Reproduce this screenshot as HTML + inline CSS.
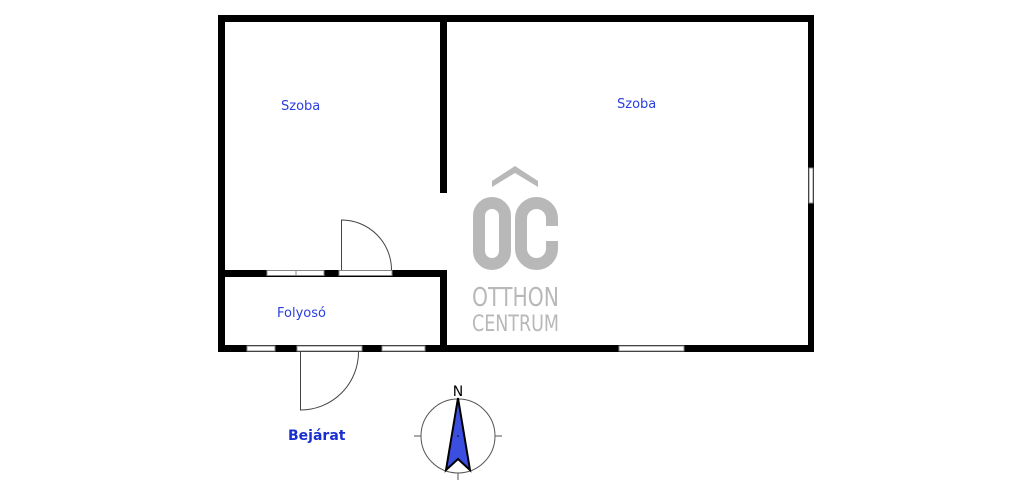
<!DOCTYPE html>
<html><head><meta charset="utf-8"><style>
html,body{margin:0;padding:0;background:#fff;}
svg{display:block;}
</style></head><body>
<svg width="1032" height="500" viewBox="0 0 1032 500" xmlns="http://www.w3.org/2000/svg">
<g fill="#000">
<rect x="218" y="15" width="596" height="7"/>
<rect x="218" y="15" width="7" height="337"/>
<rect x="808" y="15" width="6" height="337"/>
<rect x="218" y="345" width="596" height="7"/>
<rect x="440" y="15" width="7" height="178"/>
<rect x="440" y="270" width="7" height="82"/>
<rect x="218" y="270" width="229" height="7"/>
</g>
<g fill="#fff" stroke="#888" stroke-width="1">
<rect x="267" y="270.5" width="57" height="5"/>
<line x1="296" y1="270.5" x2="296" y2="275.5"/>
<rect x="339" y="270.5" width="53" height="5"/>
<rect x="247" y="346" width="28" height="5"/>
<rect x="297" y="346" width="65" height="5"/>
<rect x="382" y="346" width="43" height="5"/>
<rect x="619" y="346" width="65" height="5"/>
<rect x="809" y="168" width="4" height="35"/>
</g>
<g fill="none" stroke="#444" stroke-width="1">
<path d="M341.5 270 V220 A50 50 0 0 1 391.5 270"/>
<path d="M300.5 352 V410 A58 58 0 0 0 358.5 352"/>
</g>
<g font-family="'DejaVu Sans',Verdana,sans-serif" fill="#2a3ee0" font-size="13">
<text x="281" y="110">Szoba</text>
<text x="617" y="108">Szoba</text>
<text x="277" y="317">Folyosó</text>
<text x="288" y="440" font-weight="bold" font-size="14" fill="#1a2fd0">Bejárat</text>
</g>
<g fill="#b8b8b8">
<polygon points="492,187 515,173 538,187 538,181 515,166 492,181"/>
<rect x="479" y="203" width="26" height="61" rx="13" fill="none" stroke="#b8b8b8" stroke-width="12"/>
<path d="M552 226 V218.5 A15.5 15.5 0 0 0 521 218.5 V248.5 A15.5 15.5 0 0 0 552 248.5 V241" fill="none" stroke="#b8b8b8" stroke-width="12"/>
<text x="472" y="306" font-family="'DejaVu Sans Condensed','Liberation Sans Narrow',sans-serif" font-size="26" textLength="87" lengthAdjust="spacingAndGlyphs">OTTHON</text>
<text x="472" y="331" font-family="'DejaVu Sans Condensed','Liberation Sans Narrow',sans-serif" font-size="22" textLength="87" lengthAdjust="spacingAndGlyphs">CENTRUM</text>
</g>
<g stroke="#555" stroke-width="1" fill="none">
<circle cx="458" cy="436" r="37"/>
<line x1="414" y1="436" x2="421" y2="436"/>
<line x1="495" y1="436" x2="502" y2="436"/>
<line x1="458" y1="473" x2="458" y2="480"/>
</g>
<polygon points="458,398 446,470 458,459 470,470" fill="#3b4ee0" stroke="#000" stroke-width="2"/>
<circle cx="458" cy="436" r="0.8" fill="#000"/>
<text x="458" y="396" text-anchor="middle" font-family="'DejaVu Sans',sans-serif" font-size="14" fill="#000">N</text>
</svg>
</body></html>
